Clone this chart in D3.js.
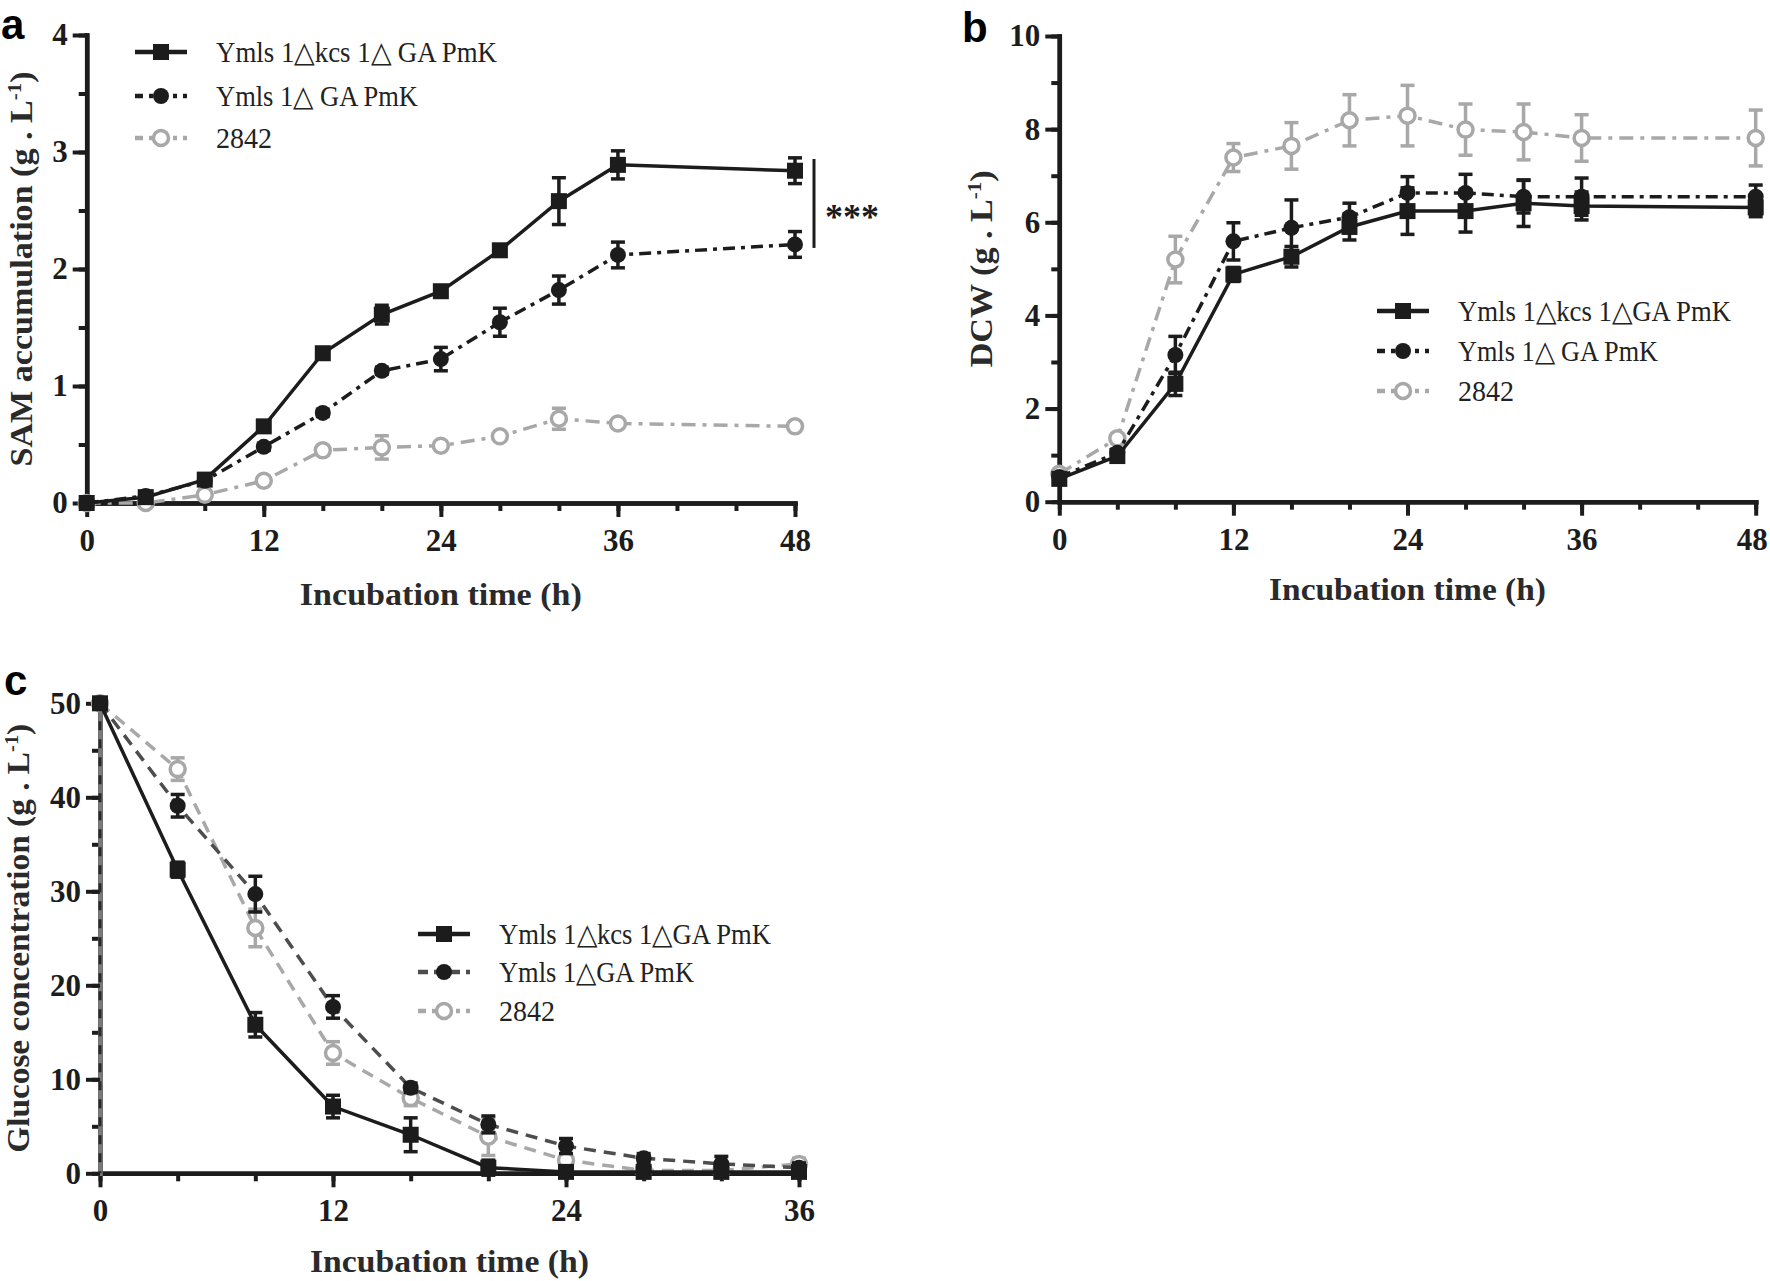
<!DOCTYPE html>
<html>
<head>
<meta charset="utf-8">
<script src="https://cdn.jsdelivr.net/npm/d3@7"></script>
<style>
  body { margin: 0; background: #fff; }
  svg { display: block; }
</style>
</head>
<body>
<svg></svg>
<script>
// SAM / DCW / glucose time courses, three strains

var timeAB = [0, 4, 8, 12, 16, 20, 24, 28, 32, 36, 48];
var timeC = [0, 4, 8, 12, 16, 20, 24, 28, 32, 36];

var samDouble = [0, 0.05, 0.2, 0.655, 1.28, 1.61, 1.81, 2.16, 2.58, 2.89, 2.84];
var samDoubleErr = [0.02, 0.02, 0.03, 0.03, 0.03, 0.08, 0.04, 0.03, 0.2, 0.12, 0.11];
var samSingle = [0, 0.06, 0.19, 0.48, 0.77, 1.13, 1.23, 1.545, 1.82, 2.12, 2.21];
var samSingleErr = [0.02, 0.02, 0.02, 0.03, 0.03, 0.03, 0.1, 0.12, 0.12, 0.11, 0.11];
var sam2842 = [0, 0, 0.07, 0.19, 0.45, 0.475, 0.49, 0.57, 0.72, 0.68, 0.655];
var sam2842Err = [0.01, 0.01, 0.02, 0.03, 0.04, 0.1, 0.03, 0.03, 0.09, 0.03, 0.03];

var dcwDouble = [0.49, 0.98, 2.53, 4.88, 5.26, 5.9, 6.24, 6.24, 6.41, 6.35, 6.32];
var dcwDoubleErr = [0.1, 0.08, 0.25, 0.15, 0.22, 0.28, 0.5, 0.45, 0.5, 0.3, 0.2];
var dcwSingle = [0.53, 1.05, 3.15, 5.59, 5.88, 6.11, 6.63, 6.63, 6.55, 6.55, 6.55];
var dcwSingleErr = [0.08, 0.08, 0.4, 0.4, 0.6, 0.3, 0.35, 0.4, 0.35, 0.4, 0.25];
var dcw2842 = [0.6, 1.36, 5.2, 7.39, 7.64, 8.19, 8.29, 7.99, 7.94, 7.81, 7.81];
var dcw2842Err = [0.08, 0.1, 0.5, 0.3, 0.5, 0.55, 0.65, 0.55, 0.6, 0.5, 0.6];

var glcDouble = [50, 32.3, 15.8, 7.1, 4.1, 0.6, 0.15, 0.15, 0.15, 0.15];
var glcDoubleErr = [0.4, 0.8, 1.3, 1.2, 1.8, 0.8, 0.3, 0.3, 0.3, 0.3];
var glcSingle = [50, 39.1, 29.7, 17.7, 9.1, 5.2, 2.9, 1.6, 1.0, 0.6];
var glcSingleErr = [0.4, 1.2, 1.9, 1.2, 0.5, 0.9, 0.8, 0.5, 0.8, 0.5];
var glc2842 = [50, 43.0, 26.1, 12.8, 8.0, 3.9, 1.4, 0.3, 0.3, 1.0];
var glc2842Err = [0.4, 1.2, 2.0, 1.2, 0.8, 2.0, 0.5, 0.3, 0.3, 0.6];

var legendA = ['Ymls 1\u25B3kcs 1\u25B3  GA PmK', 'Ymls 1\u25B3  GA PmK', '2842'];
var legendB = ['Ymls 1\u25B3kcs 1\u25B3GA PmK', 'Ymls 1\u25B3  GA PmK', '2842'];
var legendC = ['Ymls 1\u25B3kcs 1\u25B3GA PmK', 'Ymls 1\u25B3GA PmK', '2842'];

var width = 1770;
var height = 1281;
var svg = d3.select('svg').attr('width', width).attr('height', height);

var serif = "'Liberation Serif', 'Times New Roman', serif";
var ink = '#1c1c1c';
var grey = '#a8a8a8';
var darkGrey = '#4d4d4d';

function zip(t, v, e) {
  return t.map((d, i) => ({ t: d, v: v[i], e: e[i] }));
}

function drawPanel(cfg) {
  var x = d3.scaleLinear().domain(cfg.xDomain).range([cfg.left, cfg.right]);
  var y = d3.scaleLinear().domain(cfg.yDomain).range([cfg.bottom, cfg.top]);
  var g = svg.append('g');
  var fmt = d3.format('~g');

  // minor ticks first, then major axes on top
  var xMinor = g.append('g').attr('transform', `translate(0,${cfg.bottom})`)
    .call(d3.axisBottom(x).tickValues(cfg.xMinor).tickSize(8).tickSizeOuter(0).tickFormat(''));
  var yMinor = g.append('g').attr('transform', `translate(${cfg.left},0)`)
    .call(d3.axisLeft(y).tickValues(cfg.yMinor).tickSize(8).tickSizeOuter(0).tickFormat(''));
  var xAxis = g.append('g').attr('transform', `translate(0,${cfg.bottom})`)
    .call(d3.axisBottom(x).tickValues(cfg.xMajor).tickSize(14).tickSizeOuter(0).tickPadding(12).tickFormat(fmt));
  var yAxis = g.append('g').attr('transform', `translate(${cfg.left},0)`)
    .call(d3.axisLeft(y).tickValues(cfg.yMajor).tickSize(14).tickSizeOuter(0).tickPadding(5).tickFormat(fmt));

  [xMinor, yMinor, xAxis, yAxis].forEach(function(a) {
    a.selectAll('path.domain').attr('stroke', ink).attr('stroke-width', 4.5).attr('stroke-linecap', 'square');
    a.selectAll('line').attr('stroke', ink).attr('stroke-width', 4);
    a.selectAll('text')
      .attr('fill', ink)
      .style('font-family', serif)
      .style('font-weight', 'bold')
      .style('font-size', '31px');
  });

  // keep the last label inside the page edge
  if (cfg.right > width - 20) {
    xAxis.selectAll('.tick text').filter(d => d === cfg.xDomain[1]).attr('dx', -4);
  }

  if (cfg.greyYAxis) {
    yAxis.select('path.domain').attr('stroke', '#7a7a7a');
    g.append('line')
      .attr('x1', cfg.left).attr('x2', cfg.left)
      .attr('y1', cfg.top).attr('y2', cfg.bottom)
      .attr('stroke', '#2a2a2a').attr('stroke-width', 3)
      .attr('stroke-dasharray', '9,9');
  }

  // axis titles
  g.append('text')
    .attr('x', (cfg.left + cfg.right) / 2)
    .attr('y', cfg.xTitleY)
    .attr('text-anchor', 'middle')
    .attr('textLength', cfg.xTitleLen)
    .attr('lengthAdjust', 'spacingAndGlyphs')
    .attr('fill', '#2a2a2a')
    .style('font-family', serif).style('font-weight', 'bold').style('font-size', '31px')
    .text('Incubation time (h)');

  var yt = g.append('text')
    .attr('transform', `translate(${cfg.yTitleX},${(cfg.top + cfg.bottom) / 2}) rotate(-90)`)
    .attr('text-anchor', 'middle')
    .attr('textLength', cfg.yTitleLen)
    .attr('lengthAdjust', 'spacingAndGlyphs')
    .attr('fill', '#2a2a2a')
    .style('font-family', serif).style('font-weight', 'bold').style('font-size', '31px');
  yt.append('tspan').text(cfg.yTitle + ' (g . L');
  yt.append('tspan').attr('dy', -11).style('font-size', '19px').text('-1');
  yt.append('tspan').attr('dy', 11).text(')');

  // series, back to front
  cfg.series.slice().reverse().forEach(function(s) {
    var pts = zip(cfg.time, s.values, s.err);
    var line = d3.line().x(d => x(d.t)).y(d => y(d.v));

    g.append('path')
      .datum(pts)
      .attr('d', line)
      .attr('fill', 'none')
      .attr('stroke', s.lineColor)
      .attr('stroke-width', 3.5)
      .attr('stroke-dasharray', s.dash || null);

    var bars = g.append('g').selectAll('g').data(pts).enter().append('g');
    bars.append('line')
      .attr('x1', d => x(d.t)).attr('x2', d => x(d.t))
      .attr('y1', d => y(d.v - d.e)).attr('y2', d => y(d.v + d.e))
      .attr('stroke', s.barColor).attr('stroke-width', 3.5);
    [1, -1].forEach(function(sign) {
      bars.append('line')
        .attr('x1', d => x(d.t) - 7).attr('x2', d => x(d.t) + 7)
        .attr('y1', d => y(d.v + sign * d.e)).attr('y2', d => y(d.v + sign * d.e))
        .attr('stroke', s.barColor).attr('stroke-width', 3.5);
    });

    drawMarkers(g.append('g'), pts.map(d => [x(d.t), y(d.v)]), s);
  });

  // legend
  var lg = g.append('g');
  cfg.series.forEach(function(s, i) {
    var ly = cfg.legendY[i];
    lg.append('line')
      .attr('x1', cfg.legendX).attr('x2', cfg.legendX + 52)
      .attr('y1', ly).attr('y2', ly)
      .attr('stroke', s.lineColor).attr('stroke-width', 4.5)
      .attr('stroke-dasharray', s.legendDash || null);
    drawMarkers(lg.append('g'), [[cfg.legendX + 26, ly]], s);
    lg.append('text')
      .attr('x', cfg.legendX + 81)
      .attr('y', ly + 10)
      .attr('textLength', cfg.legendLen[i])
      .attr('lengthAdjust', 'spacingAndGlyphs')
      .attr('fill', '#222')
      .style('font-family', serif).style('font-size', '29px')
      .text(cfg.legend[i]);
  });

  return { x: x, y: y, g: g };
}

function drawMarkers(sel, coords, s) {
  if (s.marker === 'square') {
    sel.selectAll('rect').data(coords).enter().append('rect')
      .attr('x', d => d[0] - 8).attr('y', d => d[1] - 8)
      .attr('width', 16).attr('height', 16)
      .attr('fill', s.markerColor);
  } else if (s.marker === 'dot') {
    sel.selectAll('circle').data(coords).enter().append('circle')
      .attr('cx', d => d[0]).attr('cy', d => d[1]).attr('r', 8)
      .attr('fill', s.markerColor);
  } else {
    sel.selectAll('circle').data(coords).enter().append('circle')
      .attr('cx', d => d[0]).attr('cy', d => d[1]).attr('r', 7.5)
      .attr('fill', '#fff').attr('stroke', s.markerColor).attr('stroke-width', 3.5);
  }
}

function seriesSet(vals, errs, cPanel) {
  return [
    { values: vals[0], err: errs[0], lineColor: ink, barColor: ink, markerColor: ink, marker: 'square' },
    { values: vals[1], err: errs[1], lineColor: cPanel ? darkGrey : ink, barColor: ink, markerColor: ink, marker: 'dot',
      dash: cPanel ? '12,8' : '12,6,4,6', legendDash: cPanel ? '10,6' : '8,6,4,6' },
    { values: vals[2], err: errs[2], lineColor: grey, barColor: grey, markerColor: grey, marker: 'open',
      dash: cPanel ? '12,8' : '14,7,4,7', legendDash: '8,6,4,6' }
  ];
}

// panel a
var pa = drawPanel({
  left: 86.7, right: 795, top: 35, bottom: 503,
  xDomain: [0, 48], yDomain: [0, 4],
  xMajor: [0, 12, 24, 36, 48], xMinor: d3.range(0, 49, 4),
  yMajor: [0, 1, 2, 3, 4], yMinor: d3.range(0, 4.01, 0.5),
  time: timeAB,
  series: seriesSet([samDouble, samSingle, sam2842], [samDoubleErr, samSingleErr, sam2842Err], false),
  xTitleY: 605, xTitleLen: 282,
  yTitleX: 32, yTitleLen: 395, yTitle: 'SAM accumulation',
  legendX: 135, legendY: [52, 96, 138], legend: legendA, legendLen: [281, 202, 56]
});

// significance mark
pa.g.append('line')
  .attr('x1', 814).attr('x2', 814)
  .attr('y1', pa.y(samDouble[10] + 0.1)).attr('y2', pa.y(samSingle[10] - 0.03))
  .attr('stroke', ink).attr('stroke-width', 3);
pa.g.append('text')
  .attr('x', 825).attr('y', 229)
  .attr('fill', ink)
  .style('font-family', serif).style('font-weight', 'bold').style('font-size', '36px')
  .text('***');

// panel b
drawPanel({
  left: 1059.3, right: 1755.7, top: 36, bottom: 501.7,
  xDomain: [0, 48], yDomain: [0, 10],
  xMajor: [0, 12, 24, 36, 48], xMinor: d3.range(0, 49, 4),
  yMajor: [0, 2, 4, 6, 8, 10], yMinor: d3.range(0, 11, 1),
  time: timeAB,
  series: seriesSet([dcwDouble, dcwSingle, dcw2842], [dcwDoubleErr, dcwSingleErr, dcw2842Err], false),
  xTitleY: 600, xTitleLen: 277,
  yTitleX: 992, yTitleLen: 197, yTitle: 'DCW',
  legendX: 1377, legendY: [311, 351, 391], legend: legendB, legendLen: [273, 200, 56]
});

// panel c
drawPanel({
  left: 100, right: 799, top: 703.3, bottom: 1173.3,
  xDomain: [0, 36], yDomain: [0, 50],
  xMajor: [0, 12, 24, 36], xMinor: d3.range(0, 37, 4),
  yMajor: [0, 10, 20, 30, 40, 50], yMinor: d3.range(0, 51, 5),
  time: timeC, greyYAxis: true,
  series: seriesSet([glcDouble, glcSingle, glc2842], [glcDoubleErr, glcSingleErr, glc2842Err], true),
  xTitleY: 1272, xTitleLen: 279,
  yTitleX: 29, yTitleLen: 429, yTitle: 'Glucose concentration',
  legendX: 418, legendY: [934, 972, 1011], legend: legendC, legendLen: [272, 195, 56]
});

// panel letters
[['a', 1, 39], ['b', 962, 42], ['c', 4, 695]].forEach(function(p) {
  svg.append('text')
    .attr('x', p[1]).attr('y', p[2])
    .attr('fill', '#000')
    .style('font-family', "'Liberation Sans', Arial, sans-serif")
    .style('font-weight', 'bold').style('font-size', '42px')
    .text(p[0]);
});
</script>
</body>
</html>
